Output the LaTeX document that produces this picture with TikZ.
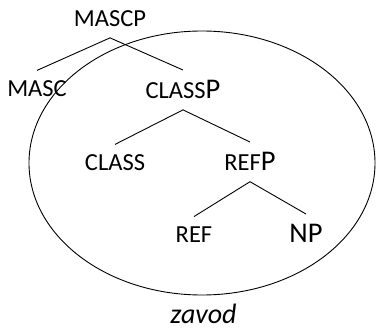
\documentclass[tikz,border=0pt]{standalone}
\usepackage{fontspec}
\setmainfont{Carlito}
\usetikzlibrary{shapes.geometric}
\begin{document}
\begin{tikzpicture}[x=1pt,y=-1pt,
  lbl/.style={inner xsep=0pt, inner ysep=10.5pt, anchor=base, font=\fontsize{24.5}{28}\selectfont},
  big/.style={font=\fontsize{28.5}{32}\selectfont},
  branch/.style={line width=0.9pt},
  ring/.style={line width=0.9pt}]
\useasboundingbox (0,0) rectangle (376,329);
\newcommand{\BigP}[1]{{\fontsize{28.5}{32}\selectfont #1}}
\node[lbl] (mascp) at (110,27) {MASCP};
\node[lbl] (masc) at (37,97) {MASC};
\node[lbl] (classp) at (183,99) {CLASS\BigP{P}};
\node[lbl] (class) at (115,171) {CLASS};
\node[lbl] (refp) at (250,171) {REF\BigP{P}};
\node[lbl] (ref) at (194,243) {REF};
\node[lbl,big] (np) at (306,243) {NP};
\node[anchor=base, inner sep=0pt, font=\fontsize{28}{32}\selectfont\itshape] (zavod) at (203.5,324) {zavod};
\draw[branch] (mascp.south) -- (masc.north);
\draw[branch] (mascp.south) -- (classp.north);
\draw[branch] (classp.south) -- (class.north);
\draw[branch] (classp.south) -- (refp.north);
\draw[branch] (refp.south) -- (ref.north);
\draw[branch] (refp.south) -- (np.north);
\node[draw, ring, ellipse, minimum width=346pt, minimum height=264pt, inner sep=0pt] (dom) at (202,163) {};
\end{tikzpicture}
\end{document}
